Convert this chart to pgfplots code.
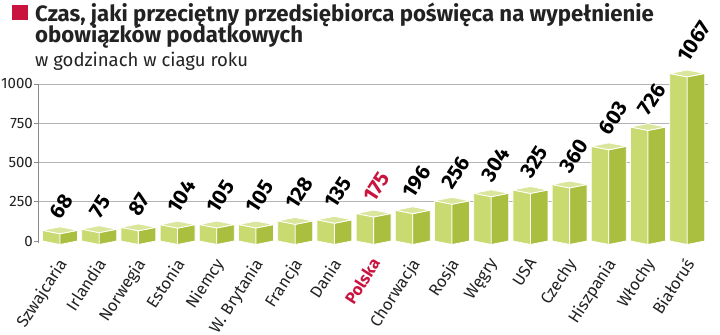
\documentclass[border=0pt]{standalone}
\usepackage{pgfplots}
\pgfplotsset{compat=1.18}
\usepackage{pgfplotstable}
\usepackage{fontspec}
\setmainfont{Fira Sans}
\definecolor{leftc}{HTML}{C9DA71}
\definecolor{rightc}{HTML}{AABF3F}
\definecolor{topc}{HTML}{D9E69C}
\definecolor{polred}{HTML}{C8143F}
\definecolor{gridc}{HTML}{B4B4B4}
\definecolor{axisc}{HTML}{8C8C8C}
\definecolor{txtc}{HTML}{222222}

\pgfplotstableread{
idx v
0 68
1 75
2 87
3 104
4 105
5 105
6 128
7 135
8 175
9 196
10 256
11 304
12 325
13 360
14 603
15 726
16 1067
}\data

\begin{document}
\begin{tikzpicture}
\path[use as bounding box] (0,0) rectangle (720bp,335bp);
\fill[polred] (12bp,315bp) rectangle (28bp,330bp);
\node[anchor=base west, inner sep=0, text=txtc, font=\fontsize{22.2bp}{25bp}\selectfont\bfseries] at (35bp,313bp) {Czas, jaki przeciętny przedsiębiorca poświęca na wypełnienie};
\node[anchor=base west, inner sep=0, text=txtc, font=\fontsize{22.2bp}{25bp}\selectfont\bfseries] at (35bp,292bp) {obowiązków podatkowych};
\node[anchor=base west, inner sep=0, text=txtc, font=\fontsize{18.5bp}{21bp}\selectfont] at (35bp,268bp) {w godzinach w ciagu roku};
\begin{axis}[
  at={(38bp,87.72bp)}, anchor=south west,
  scale only axis, width=670bp, height=178.98bp,
  xmin=-0.561, xmax=16.53, ymin=-40, ymax=1100,
  clip=false,
  axis line style={draw=none},
  xtick={0,...,16},
  xticklabels={Szwajcaria,Irlandia,Norwegia,Estonia,Niemcy,{W. Brytania},Francja,Dania,{\textcolor{polred}{\bfseries Polska}},Chorwacja,Rosja,Węgry,USA,Czechy,Hiszpania,Włochy,Białoruś},
  xtick style={draw=none},
  xtick pos=bottom, ytick pos=left,
  ytick={250,500,750,1000},
  extra y ticks={0},
  extra y tick style={grid=none},
  ymajorgrids,
  grid style={gridc, line width=0.7bp},
  tick align=outside,
  major tick length=4bp,
  ytick style={axisc, line width=0.7bp},
  yticklabel style={font=\fontsize{15bp}{17bp}\selectfont, text=txtc, inner sep=1bp},
  xticklabel style={font=\fontsize{16.5bp}{19bp}\selectfont, text=txtc, rotate=57, anchor=north east, inner sep=0bp, xshift=-6bp, yshift=0bp},
  /pgf/number format/assume math mode=true,
  /pgf/number format/1000 sep={},
]
\draw[axisc, line width=0.7bp] (axis cs:-0.561,-10) -- (axis cs:-0.561,1000);
\pgfplotsinvokeforeach{0,...,16}{
  \pgfplotstablegetelem{#1}{v}\of\data
  \let\myv\pgfplotsretval
  \pgfmathsetmacro\xl{#1-0.446}
  \pgfmathsetmacro\xr{#1+0.446}
  \pgfmathsetmacro\vt{\myv+22}
  \pgfmathsetmacro\vb{\myv-22}
  \pgfmathsetmacro\xs{#1+0.03}
  \pgfmathsetmacro\vl{\myv+62}
  \ifnum#1=8 \def\lc{polred}\else\def\lc{black}\fi
  \edef\temp{%
    \noexpand\addplot[fill=leftc, draw=white, line width=0.8bp] coordinates {(\xl,\myv) (#1,\vb) (#1,-22) (\xl,0) (\xl,\myv)};
    \noexpand\addplot[fill=rightc, draw=white, line width=0.8bp] coordinates {(#1,\vb) (\xr,\myv) (\xr,0) (#1,-22) (#1,\vb)};
    \noexpand\addplot[fill=topc, draw=white, line width=0.8bp] coordinates {(\xl,\myv) (#1,\vt) (\xr,\myv) (#1,\vb) (\xl,\myv)};
    \noexpand\node[anchor=south west, inner sep=0, rotate=57, text=\lc, font=\noexpand\fontsize{21bp}{23bp}\noexpand\selectfont\noexpand\bfseries] at (axis cs:\xs,\vl) {\myv};
  }\temp
}
\end{axis}
\end{tikzpicture}
\end{document}
